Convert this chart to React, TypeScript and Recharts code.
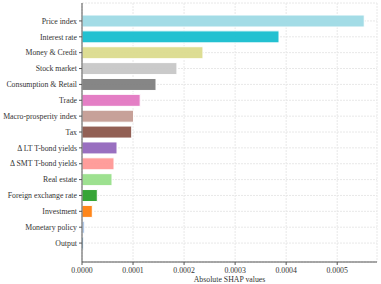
import { BarChart, Bar, XAxis, YAxis, CartesianGrid, Cell } from "recharts";

const features = [
  "Price index",
  "Interest rate",
  "Money & Credit",
  "Stock market",
  "Consumption & Retail",
  "Trade",
  "Macro-prosperity index",
  "Tax",
  "Δ LT T-bond yields",
  "Δ SMT T-bond yields",
  "Real estate",
  "Foreign exchange rate",
  "Investment",
  "Monetary policy",
  "Output",
];

const shapValues = [
  0.000553, 0.000386, 0.000237, 0.000186, 0.000145, 0.000114, 0.000101,
  0.0000974, 0.0000686, 0.0000627, 0.0000588, 0.00003, 0.0000202, 0.0000053,
  0.0000026,
];

const barColors = [
  "#9edae5", "#17becf", "#dbdb8d", "#c7c7c7", "#7f7f7f", "#e377c2", "#c49c94",
  "#8c564b", "#9467bd", "#ff9896", "#98df8a", "#2ca02c", "#ff7f0e", "#aec7e8",
  "#1f77b4",
];

const xTicks = [0, 0.0001, 0.0002, 0.0003, 0.0004, 0.0005];

const data = features.map((name, i) => ({ name, value: shapValues[i] }));

const font = "'Liberation Serif', 'Times New Roman', serif";

// single-line label, recharts would wrap the long names otherwise
const FeatureTick = ({ x, y, payload }: any) => (
  <text
    x={x}
    y={y}
    dy={2.7}
    textAnchor="end"
    fill="#333"
    fontSize={7.8}
    fontFamily={font}
  >
    {payload.value}
  </text>
);

export default function App() {
  return (
    <div style={{ position: "absolute", left: 0, top: 0, width: 381, height: 284, background: "#fff" }}>
      <BarChart
        width={381}
        height={284}
        data={data}
        layout="vertical"
        margin={{ top: 3, right: 4, bottom: 0, left: 0 }}
        barSize={12}
      >
        <CartesianGrid
          xAxisId="main"
          yAxisId="left"
          stroke="#e8e8e8"
          strokeDasharray="2 1"
        />
        <XAxis
          xAxisId="main"
          type="number"
          domain={[0, 0.000578]}
          ticks={xTicks}
          allowDataOverflow
          tickFormatter={(v) => Number(v).toFixed(4)}
          tick={{ fill: "#333", fontSize: 7.8, fontFamily: font }}
          tickSize={3}
          axisLine={{ stroke: "#555" }}
          tickLine={{ stroke: "#555" }}
          height={22}
          label={{
            value: "Absolute SHAP values",
            position: "insideBottom",
            offset: 2,
            fill: "#333",
            fontSize: 7.8,
            fontFamily: font,
          }}
        />
        <XAxis
          xAxisId="top"
          orientation="top"
          type="number"
          domain={[0, 0.000578]}
          height={0}
          tick={false}
          tickLine={false}
          axisLine={{ stroke: "#aaa", strokeWidth: 1.2 }}
        />
        <YAxis
          yAxisId="left"
          type="category"
          dataKey="name"
          width={82}
          interval={0}
          tickSize={3}
          padding={{ top: 10, bottom: 11 }}
          tick={<FeatureTick />}
          axisLine={{ stroke: "#555" }}
          tickLine={{ stroke: "#555" }}
        />
        <YAxis
          yAxisId="right"
          orientation="right"
          type="category"
          dataKey="name"
          width={0}
          tick={false}
          tickLine={false}
          axisLine={{ stroke: "#aaa", strokeWidth: 1.2 }}
        />
        <Bar
          xAxisId="main"
          yAxisId="left"
          dataKey="value"
          stroke="#fff"
          strokeWidth={1}
          isAnimationActive={false}
        >
          {data.map((d, i) => (
            <Cell key={d.name} fill={barColors[i]} fillOpacity={0.95} />
          ))}
        </Bar>
      </BarChart>
    </div>
  );
}
